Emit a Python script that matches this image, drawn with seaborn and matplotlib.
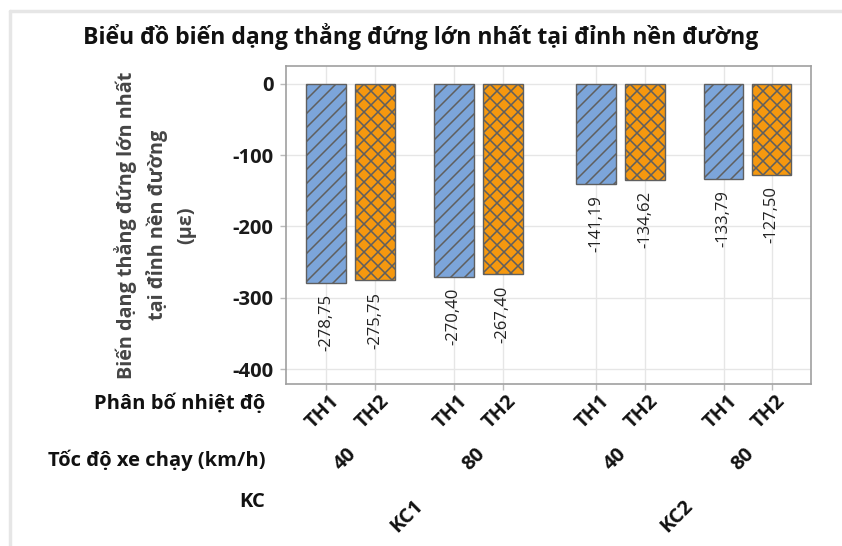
import matplotlib
matplotlib.use("Agg")
import matplotlib.pyplot as plt
import matplotlib.transforms as mtransforms
from matplotlib.lines import Line2D
import seaborn as sns
import pandas as pd

# Data
kc_groups = ["KC1", "KC1", "KC1", "KC1", "KC2", "KC2", "KC2", "KC2"]
speeds = ["40", "40", "80", "80", "40", "40", "80", "80"]
temp_cases = ["TH1", "TH2", "TH1", "TH2", "TH1", "TH2", "TH1", "TH2"]
strain = [-278.75, -275.75, -270.40, -267.40, -141.19, -134.62, -133.79, -127.50]
value_labels = ["-278,75", "-275,75", "-270,40", "-267,40",
                "-141,19", "-134,62", "-133,79", "-127,50"]
y_ticks = [0, -100, -200, -300, -400]

# Bar slots along the x axis (pairs, with a wider gap between KC groups)
slots = [0.0, 1.0, 2.61, 3.61, 5.51, 6.51, 8.12, 9.10]

df = pd.DataFrame({"pos": slots, "strain": strain, "case": temp_cases,
                   "speed": speeds, "kc": kc_groups})

# Hatch spacing follows the dpi; sizes below are given in 100-dpi points
DPI = 84
W, H = 842, 546
K = 100 / DPI


def pt(v):
    return v * K


sns.set_theme(style="white")
plt.rcParams["font.family"] = ["Open Sans", "DejaVu Sans"]
plt.rcParams["hatch.linewidth"] = pt(1.1)
plt.rcParams["hatch.color"] = "#4d4d4d"

fig = plt.figure(figsize=(W / DPI, H / DPI), dpi=DPI)
ax = fig.add_axes([286 / W, 1 - 384 / H, (811 - 286) / W, (384 - 66) / H])

colors = {"TH1": "#7CA5DA", "TH2": "#F5980F"}
hatches = {"TH1": "//", "TH2": "xx"}

sns.barplot(data=df, x="pos", y="strain", native_scale=True, ax=ax,
            width=0.82, color=colors["TH1"], errorbar=None)

for patch, case in zip(ax.patches, temp_cases):
    patch.set_facecolor(colors[case])
    patch.set_hatch(hatches[case])
    patch.set_edgecolor("#5f5f5f")
    patch.set_linewidth(pt(1.0))

ax.set_xlim(-0.816, 9.9)
ax.set_ylim(-421, 25)
ax.set_yticks(y_ticks)
ax.set_yticklabels([str(v) for v in y_ticks], fontsize=pt(14.5), fontweight="bold",
                   color="#1a1a1a")
ax.set_xticks(slots)
ax.set_xticklabels([])
ax.tick_params(axis="x", length=pt(4), color="#bbbbbb", width=pt(1), direction="out",
               bottom=True)
ax.tick_params(axis="y", length=pt(4), color="#bbbbbb", width=pt(1), left=True,
               pad=pt(5))
ax.set_xlabel("")
ax.set_ylabel("Biến dạng thẳng đứng lớn nhất\ntại đỉnh nền đường\n(με)",
              fontsize=pt(14.2), fontweight="bold", color="#454545", labelpad=pt(26),
              linespacing=1.55)

ax.grid(True, color="#e6e6e6", linewidth=pt(1))
ax.set_axisbelow(True)
for s in ax.spines.values():
    s.set_color("#a0a0a0")
    s.set_linewidth(pt(1.2))

# Value labels under each bar
for x, v, lab in zip(slots, strain, value_labels):
    ax.annotate(lab, (x, v), xytext=(0, -pt(8)), textcoords="offset points",
                rotation=90, ha="center", va="top", fontsize=pt(12), color="#222222")

# Multi-level category labels below the axis
trans_x = mtransforms.blended_transform_factory(ax.transData, fig.transFigure)


def fy(py):
    return 1 - py / H


for x, case in zip(slots, temp_cases):
    ax.text(x + 0.22, fy(398), case, transform=trans_x, rotation=45,
            rotation_mode="anchor", ha="right", va="center", fontsize=pt(14.5),
            fontweight="bold", color="#111111")

for i in range(0, 8, 2):
    xm = (slots[i] + slots[i + 1]) / 2
    ax.text(xm - 0.1, fy(459), speeds[i], transform=trans_x, rotation=45,
            rotation_mode="anchor", ha="center", va="center", fontsize=pt(14.5),
            fontweight="bold", color="#111111")

for i in (0, 4):
    xm = (slots[i] + slots[i + 3]) / 2
    ax.text(xm - 0.15, fy(516), kc_groups[i], transform=trans_x, rotation=45,
            rotation_mode="anchor", ha="center", va="center", fontsize=pt(14.5),
            fontweight="bold", color="#111111")

row_titles = [("Phân bố nhiệt độ", 404), ("Tốc độ xe chạy (km/h)", 460), ("KC", 502)]
for txt, py in row_titles:
    fig.text(265 / W, fy(py), txt, ha="right", va="center", fontsize=pt(14.5),
             fontweight="bold", color="#111111")

fig.text(421 / W, fy(36), "Biểu đồ biến dạng thẳng đứng lớn nhất tại đỉnh nền đường",
         ha="center", va="center", fontsize=pt(16.6), fontweight="bold", color="#111111")

# Light frame along the top and left edges
fig.add_artist(Line2D([10 / W, 1], [fy(11), fy(11)], transform=fig.transFigure,
                      color="#e6e6e6", linewidth=pt(2.5)))
fig.add_artist(Line2D([10 / W, 10 / W], [fy(11), 0], transform=fig.transFigure,
                      color="#e6e6e6", linewidth=pt(2.5)))

fig.savefig("out.png", dpi=DPI, facecolor="white")
